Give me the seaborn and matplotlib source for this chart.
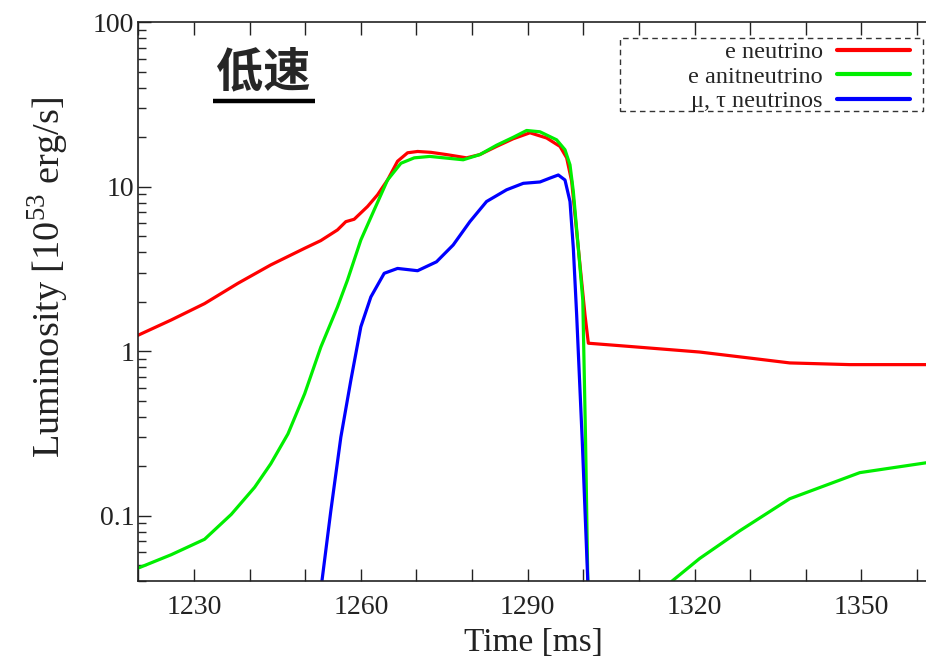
import numpy as np
import seaborn as sns
import matplotlib.pyplot as plt
from matplotlib.patches import Rectangle
from matplotlib.ticker import MultipleLocator, FixedLocator, FixedFormatter, LogLocator, NullFormatter

# e neutrino
t_e = [1219.9, 1225.9, 1231.9, 1237.9, 1243.8, 1249.9, 1252.8, 1255.8, 1257.3, 1258.8,
       1261.2, 1263.0, 1264.8, 1266.6, 1268.4, 1270.2, 1272.6, 1275.4, 1279.0, 1281.4,
       1284.4, 1287.4, 1290.4, 1293.4, 1295.8, 1297.0, 1297.9, 1298.8, 1299.7, 1300.3,
       1300.9, 1308.4, 1320.9, 1329.9, 1337.1, 1347.9, 1361.6]
L_e = [1.25, 1.55, 1.95, 2.59, 3.35, 4.23, 4.71, 5.47, 6.14, 6.35,
       7.59, 8.94, 11.0, 14.3, 16.1, 16.4, 16.2, 15.7, 15.0, 15.7,
       17.6, 19.6, 21.3, 19.8, 17.6, 15.0, 10.8, 5.34, 2.65, 1.66,
       1.12, 1.07, 0.99, 0.91, 0.85, 0.83, 0.83]

# e antineutrino (drops below 0.04 between ~1301 and ~1316 ms)
t_ea1 = [1219.9, 1225.9, 1231.9, 1236.7, 1240.9, 1243.8, 1246.9, 1249.9, 1252.8, 1255.8,
         1257.6, 1260.0, 1262.4, 1264.8, 1267.2, 1269.6, 1272.4, 1278.4, 1281.4, 1284.4,
         1287.4, 1289.8, 1292.2, 1295.2, 1296.7, 1297.6, 1298.2, 1299.1, 1299.9, 1300.4,
         1300.8]
L_ea1 = [0.048, 0.058, 0.072, 0.102, 0.149, 0.207, 0.315, 0.552, 1.06, 1.86,
         2.71, 4.75, 7.24, 11.0, 13.9, 15.0, 15.3, 14.6, 15.7, 17.9,
         20.0, 22.0, 21.6, 19.3, 16.8, 13.6, 9.36, 4.23, 2.05, 0.287,
         0.04]
t_ea2 = [1315.9, 1320.9, 1328.1, 1337.1, 1349.7, 1361.6]
L_ea2 = [0.04, 0.055, 0.081, 0.127, 0.183, 0.21]

# mu, tau neutrinos
t_mu = [1253.0, 1254.6, 1256.4, 1258.2, 1260.0, 1261.8, 1264.2, 1266.6, 1270.2, 1273.6,
        1276.6, 1279.6, 1282.6, 1286.2, 1289.2, 1292.2, 1294.0, 1295.5, 1296.7, 1297.6,
        1298.2, 1298.8, 1299.8, 1300.8]
L_mu = [0.04, 0.107, 0.300, 0.666, 1.41, 2.14, 2.98, 3.19, 3.09, 3.50,
        4.43, 6.14, 8.14, 9.59, 10.5, 10.7, 11.3, 11.8, 11.0, 8.14,
        4.23, 1.66, 0.287, 0.04]

labels = ['e neutrino', 'e anitneutrino', 'μ, τ neutrinos']
colors = ['#ff0000', '#00ee00', '#0000ff']
x_ticks = [1230, 1260, 1290, 1320, 1350]
y_ticks = [0.1, 1, 10, 100]
y_ticklabels = ['0.1', '1', '10', '100']

sns.set_style('ticks')
plt.rcParams['font.family'] = ['Liberation Serif', 'DejaVu Serif']
plt.rcParams['mathtext.fontset'] = 'custom'
plt.rcParams['mathtext.rm'] = 'Liberation Serif'

fig = plt.figure(figsize=(9.26, 6.58), dpi=100)
ax = fig.add_axes([0.1494, 0.1166, 0.853, 0.8495])

lw = 2.3
sns.lineplot(x=t_e, y=L_e, ax=ax, color=colors[0], lw=lw, label=labels[0], sort=False)
sns.lineplot(x=t_ea1, y=L_ea1, ax=ax, color=colors[1], lw=lw, label=labels[1], sort=False)
sns.lineplot(x=t_ea2, y=L_ea2, ax=ax, color=colors[1], lw=lw, sort=False)
sns.lineplot(x=t_mu, y=L_mu, ax=ax, color=colors[2], lw=lw, label=labels[2], sort=False)

ax.set_yscale('log')
ax.set_xlim(1220, 1362)
ax.set_ylim(0.04, 100)

ax.xaxis.set_major_locator(FixedLocator(x_ticks))
ax.xaxis.set_minor_locator(MultipleLocator(10))
ax.yaxis.set_major_locator(FixedLocator(y_ticks))
ax.yaxis.set_major_formatter(FixedFormatter(y_ticklabels))
ax.yaxis.set_minor_locator(LogLocator(base=10, subs=np.arange(2, 10)))
ax.yaxis.set_minor_formatter(NullFormatter())

ax.tick_params(axis='x', which='both', direction='in', top=True, length=9, width=1,
               labelsize=20, pad=10, colors='#222222')
ax.tick_params(axis='y', which='major', direction='in', length=9, width=1,
               labelsize=20, pad=3, colors='#222222')
ax.tick_params(axis='y', which='minor', direction='in', length=6, width=1)
for s in ['left', 'bottom', 'top']:
    ax.spines[s].set_linewidth(1.2)
    ax.spines[s].set_color('#222222')
ax.spines['right'].set_visible(False)

ax.set_xlabel('Time [ms]', fontsize=24, labelpad=5, color='#222222')
ax.set_ylabel(r'Luminosity [10$^{53}$ erg/s]', fontsize=27.5, color='#222222')
ax.yaxis.set_label_coords(-0.085, 0.543)

# legend: right-aligned labels, sample lines on the right, dashed box around it
leg = ax.legend(loc='upper right', bbox_to_anchor=(0.977, 0.966), borderaxespad=0,
                markerfirst=False, fontsize=17.5, handlelength=3.0, handletextpad=0.6,
                labelspacing=0.1, borderpad=0, frameon=False)
for h in leg.get_lines():
    h.set_linewidth(3)
ax.add_patch(Rectangle((0.6098, 0.8422), 0.3832, 0.129, transform=ax.transAxes,
                       fill=False, edgecolor='#333333', lw=1.0, ls=(0, (4, 3)),
                       clip_on=False, zorder=5))

ax.text(0.158, 0.911, '低速', transform=ax.transAxes, ha='center', va='center',
        fontsize=34, fontweight='bold', family=['Noto Sans CJK SC', 'DejaVu Sans'])
ax.plot([0.0946, 0.2238], [0.859, 0.859], transform=ax.transAxes, color='black', lw=3.2,
        solid_capstyle='butt', clip_on=False)

plt.savefig('out.png', dpi=100)
plt.close()
